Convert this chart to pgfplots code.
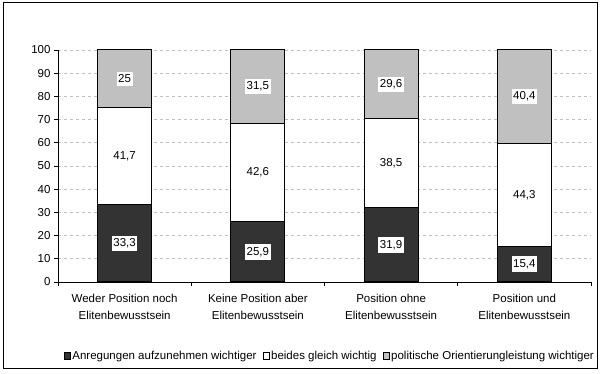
\documentclass[border=0pt]{standalone}
\usepackage{fontspec}
\setmainfont{Liberation Sans}
\usepackage{pgfplots}
\pgfplotsset{compat=1.18}
\definecolor{dark}{HTML}{333333}
\definecolor{lgrey}{HTML}{C0C0C0}
\begin{document}
\begin{tikzpicture}[x=1bp,y=1bp,font=\fontsize{11.5bp}{15bp}\selectfont]
\path[use as bounding box] (0bp,0bp) rectangle (601bp,374bp);
\draw[line width=1bp] (3bp,5bp) rectangle (597bp,371bp);
\pgfplotsset{
  common/.style={
    at={(58bp,92bp)}, anchor=south west,
    width=533bp, height=232bp, scale only axis,
    xmin=-0.5, xmax=3.5, ymin=0, ymax=100,
  }
}
\begin{axis}[common,
  ybar stacked, bar width=54bp,
  /pgf/number format/assume math mode=true,
  ytick={0,10,...,100},
  ymajorgrids, grid style={dashed, lgrey, line width=0.8bp},
  axis x line*=bottom, axis y line*=left,
  axis line style={line width=0.8bp},
  xtick={0,1,2,3},
  xticklabels={{Weder Position noch\\Elitenbewusstsein},{Keine Position aber\\Elitenbewusstsein},{Position ohne\\Elitenbewusstsein},{Position und\\Elitenbewusstsein}},
  xticklabel style={align=center, yshift=-5bp, font=\fontsize{11.5bp}{17bp}\selectfont},
  major x tick style={draw=none},
  minor xtick={-0.5,0.5,1.5,2.5,3.5},
  tick align=outside,
  major tick length=4bp, minor tick length=4bp,
  tick style={black, line width=0.8bp},
  legend style={at={(0.51,-0.32)}, anchor=center, draw=none, fill=none,
    legend columns=3,
    /tikz/every even column/.append style={column sep=5bp},
    nodes={inner xsep=1.5bp, inner ysep=1bp}},
  legend image code/.code={\draw[#1, draw=black, line width=0.6bp] (0,-3bp) rectangle (6bp,3.5bp);},
  legend cell align=left,
]
\addplot[fill=dark, draw=black, line width=1bp] coordinates {(0,33.3) (1,25.9) (2,31.9) (3,15.4)};
\addplot[fill=white, draw=black, line width=1bp] coordinates {(0,41.7) (1,42.6) (2,38.5) (3,44.3)};
\addplot[fill=lgrey, draw=black, line width=1bp] coordinates {(0,25) (1,31.5) (2,29.6) (3,40.3)};
\legend{Anregungen aufzunehmen wichtiger,beides gleich wichtig,politische Orientierungleistung wichtiger}
\end{axis}
\begin{axis}[common, hide axis]
\addplot[draw=none, mark=none, nodes near coords, point meta=explicit symbolic,
  every node near coord/.style={anchor=center, fill=white, inner xsep=1.5bp, inner ysep=3bp, text=black}]
  coordinates {(0,16.65)[33,3] (1,12.95)[25,9] (2,15.95)[31,9] (3,7.7)[15,4]
               (0,54.15)[41,7] (1,47.2)[42,6] (2,51.15)[38,5] (3,37.55)[44,3]
               (0,87.5)[25] (1,84.25)[31,5] (2,85.2)[29,6] (3,79.9)[40,4]};
\end{axis}
\end{tikzpicture}
\end{document}
